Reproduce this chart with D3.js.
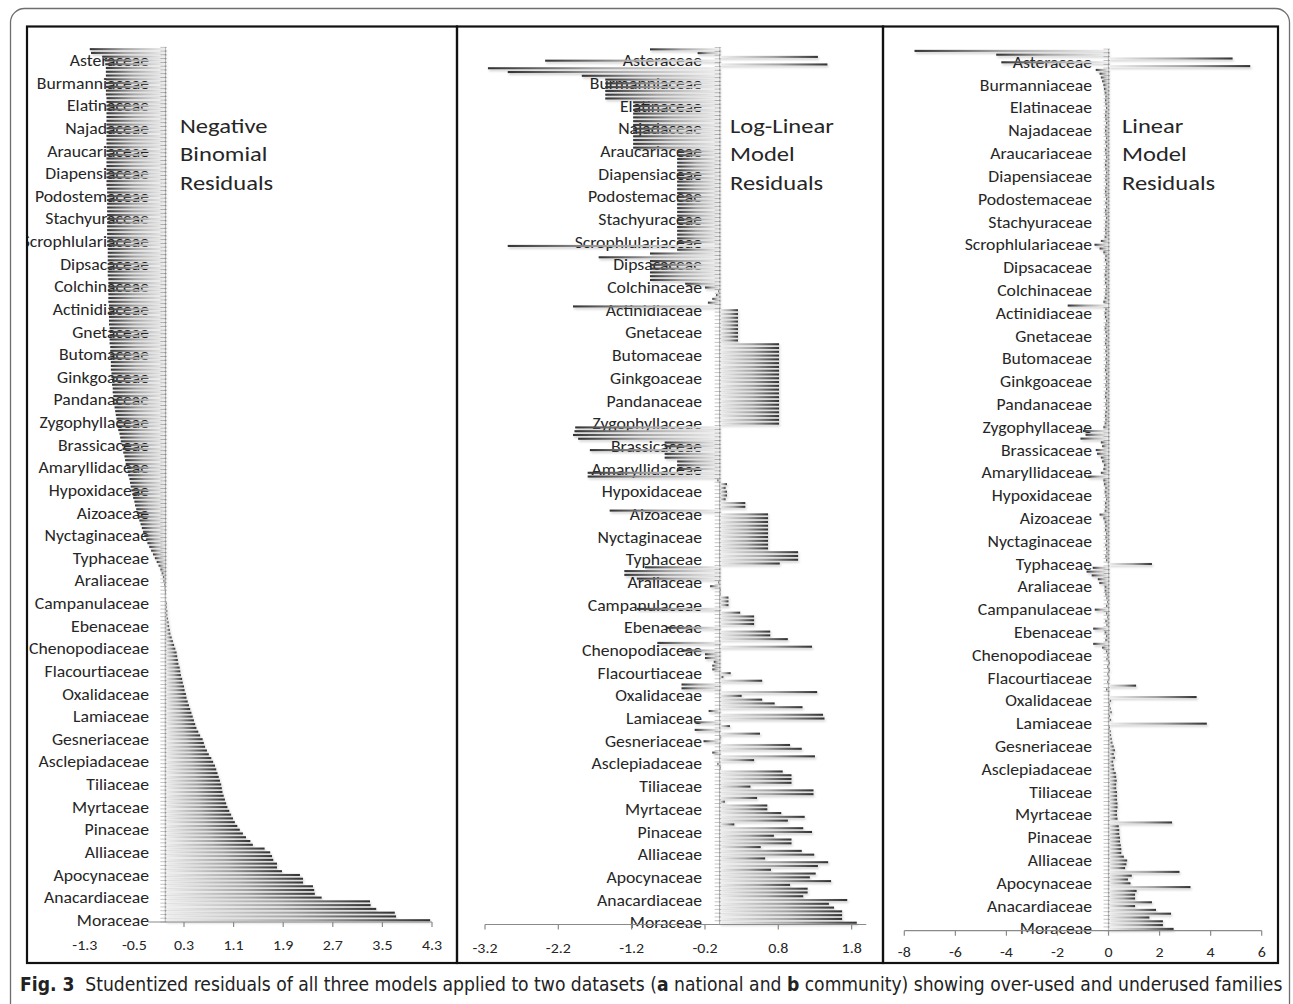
<!DOCTYPE html>
<html><head><meta charset="utf-8">
<script src="https://cdn.jsdelivr.net/npm/d3@7"></script>
<style>body{margin:0;background:#fff}svg{display:block}</style>
</head><body>
<script>
// Families, bottom (index 0) to top; only every 6th family carries a label in the figure
const families = ["Moraceae","Anacardiaceae","Apocynaceae","Alliaceae","Pinaceae","Myrtaceae","Tiliaceae",
  "Asclepiadaceae","Gesneriaceae","Lamiaceae","Oxalidaceae","Flacourtiaceae","Chenopodiaceae","Ebenaceae",
  "Campanulaceae","Araliaceae","Typhaceae","Nyctaginaceae","Aizoaceae","Hypoxidaceae","Amaryllidaceae",
  "Brassicaceae","Zygophyllaceae","Pandanaceae","Ginkgoaceae","Butomaceae","Gnetaceae","Actinidiaceae",
  "Colchinaceae","Dipsacaceae","Scrophlulariaceae","Stachyuraceae","Podostemaceae","Diapensiaceae",
  "Araucariaceae","Najadaceae","Elatinaceae","Burmanniaceae","Asteraceae"];
const labelEvery = 6;

// Studentized residuals, bottom (Moraceae) to top; each row starts at a labelled family
const nbResiduals = [
  4.27, 3.72, 3.70, 3.40, 3.31, 3.30,
  2.52, 2.41, 2.40, 2.38, 2.22, 2.22,
  2.17, 1.88, 1.80, 1.80, 1.74, 1.72,
  1.69, 1.60, 1.41, 1.37, 1.30, 1.25,
  1.20, 1.16, 1.12, 1.09, 1.06, 1.03,
  1.00, 0.98, 0.96, 0.94, 0.92, 0.91,
  0.90, 0.88, 0.86, 0.84, 0.82, 0.80,
  0.77, 0.74, 0.70, 0.67, 0.64, 0.62,
  0.60, 0.56, 0.53, 0.50, 0.48, 0.46,
  0.44, 0.42, 0.40, 0.38, 0.36, 0.34,
  0.33, 0.31, 0.30, 0.28, 0.27, 0.25,
  0.24, 0.23, 0.21, 0.20, 0.19, 0.18,
  0.16, 0.14, 0.12, 0.10, 0.08, 0.07,
  0.06, 0.05, 0.04, 0.03, 0.03, 0.02,
  0.02, 0.01, 0.01, 0.00, -0.01, -0.02,
  -0.03, -0.04, -0.06, -0.08, -0.11, -0.14,
  -0.17, -0.20, -0.23, -0.26, -0.29, -0.31,
  -0.34, -0.36, -0.38, -0.40, -0.42, -0.44,
  -0.46, -0.47, -0.49, -0.50, -0.52, -0.53,
  -0.55, -0.56, -0.57, -0.58, -0.60, -0.61,
  -0.62, -0.64, -0.65, -0.66, -0.68, -0.69,
  -0.70, -0.72, -0.73, -0.74, -0.76, -0.77,
  -0.78, -0.79, -0.80, -0.81, -0.82, -0.83,
  -0.84, -0.84, -0.85, -0.85, -0.86, -0.86,
  -0.87, -0.87, -0.88, -0.88, -0.88, -0.89,
  -0.89, -0.89, -0.89, -0.90, -0.90, -0.90,
  -0.90, -0.90, -0.91, -0.91, -0.91, -0.91,
  -0.91, -0.91, -0.92, -0.92, -0.92, -0.92,
  -0.92, -0.92, -0.92, -0.93, -0.93, -0.93,
  -0.93, -0.93, -0.93, -0.93, -0.93, -0.94,
  -0.94, -0.94, -0.94, -0.94, -0.94, -0.94,
  -0.94, -0.94, -0.94, -0.94, -0.94, -0.94,
  -0.94, -0.94, -0.94, -0.95, -0.95, -0.95,
  -0.95, -0.95, -0.95, -0.95, -0.95, -0.95,
  -0.95, -0.95, -0.95, -0.95, -0.95, -0.95,
  -0.95, -0.95, -0.95, -0.95, -0.95, -0.95,
  -0.95, -0.95, -0.95, -0.96, -0.96, -0.96,
  -0.96, -0.96, -0.96, -0.96, -0.96, -0.97,
  -0.98, -1.02, -1.20, -1.22
];
const logLinearResiduals = [
  1.87, 1.67, 1.67, 1.67, 1.56, 1.49,
  1.74, 1.14, 1.20, 1.20, 0.96, 1.52,
  1.23, 1.31, 0.70, 1.34, 1.48, 0.62,
  1.29, 1.12, 0.56, 0.98, 0.98, 0.74,
  1.26, 1.14, 0.20, 0.93, 1.16, 0.84,
  0.65, 0.65, 0.07, 0.51, 1.28, 1.28,
  0.42, 0.98, 0.98, 0.98, 0.86, 0.01,
  -0.03, 0.47, 1.30, -0.10, 1.12, 0.96,
  -0.22, 0.02, 0.55, -0.34, 0.14, -0.34,
  1.43, 1.41, -0.15, 1.13, 0.75, 0.58,
  0.30, 1.33, -0.52, -0.52, 0.58, 0.05,
  0.15, -0.10, -0.10, -0.08, -0.20, -0.20,
  -0.52, 1.26, -0.85, 0.93, 0.69, 0.69,
  -0.72, 0.47, 0.47, 0.47, 0.28, -1.13,
  0.12, 0.12, 0.12, 0.01, 0.01, -0.13,
  -0.02, -1.13, -1.30, -1.30, -1.02, 0.82,
  1.07, 1.07, 1.07, 0.66, 0.66, 0.66,
  0.66, 0.66, 0.66, 0.66, 0.66, 0.66,
  0.66, -1.50, 0.35, 0.35, 0.08, 0.10,
  0.10, 0.08, 0.10, -0.03, -1.80, -1.80,
  -0.58, -0.58, -0.58, -0.75, -0.75, -1.77,
  -0.75, -0.75, -1.93, -2.00, -1.98, -1.97,
  0.81, 0.81, 0.81, 0.81, 0.81, 0.81,
  0.81, 0.81, 0.81, 0.81, 0.81, 0.81,
  0.81, 0.81, 0.81, 0.81, 0.81, 0.81,
  0.81, 0.81, 0.81, 0.81, 0.25, 0.25,
  0.25, 0.25, 0.25, 0.25, 0.25, 0.25,
  0.25, -2.00, -0.16, -0.10, -0.05, -0.02,
  -0.20, -0.47, -0.95, -0.95, -0.95, -0.95,
  -0.95, -0.95, -1.65, -0.95, -0.58, -2.89,
  -0.58, -0.58, -0.58, -0.58, -0.58, -0.58,
  -0.58, -0.58, -0.58, -0.58, -0.58, -0.58,
  -0.58, -0.58, -0.58, -0.58, -0.58, -0.58,
  -0.58, -0.58, -0.58, -0.58, -0.58, -0.58,
  -0.58, -1.18, -1.18, -1.18, -1.18, -1.18,
  -1.18, -1.18, -1.18, -1.18, -1.18, -1.18,
  -1.18, -1.18, -1.56, -1.56, -1.56, -1.56,
  -1.56, -1.56, -1.88, -2.89, -3.16, 1.47,
  -2.38, 1.34, -0.30, -0.95
];
const linearResiduals = [
  2.55, 2.13, 2.13, 1.60, 2.45, 1.86,
  1.04, 1.70, 1.04, 1.04, 1.10, 3.21,
  0.86, 0.76, 0.91, 2.78, 0.65, 0.70,
  0.73, 0.60, 0.50, 0.50, 0.48, 0.45,
  0.45, 0.42, 0.42, 0.40, 2.49, 0.35,
  0.33, 0.33, 0.35, 0.35, 0.33, 0.33,
  0.33, 0.30, 0.30, 0.32, 0.30, 0.28,
  0.22, 0.20, 0.18, 0.25, 0.20, 0.25,
  0.20, 0.15, 0.12, 0.10, 0.08, 0.05,
  3.85, 0.10, 0.05, 0.12, 0.08, 0.04,
  0.10, 3.45, 0.02, -0.10, 1.08, -0.05,
  0.03, -0.04, 0.05, -0.06, 0.04, -0.08,
  -0.05, -0.10, -0.25, -0.60, -0.12, -0.10,
  -0.15, -0.60, -0.08, -0.12, -0.05, -0.10,
  -0.54, -0.10, -0.06, -0.08, -0.12, -0.15,
  -0.15, -0.36, -0.42, -0.66, -0.86, -0.62,
  1.70, -0.10, -0.12, -0.08, -0.10, -0.12,
  -0.10, -0.12, -0.10, -0.14, -0.12, -0.15,
  -0.20, -0.35, -0.15, -0.12, -0.14, -0.10,
  -0.12, -0.15, -0.12, -0.18, -0.20, -0.80,
  -0.30, -0.20, -0.18, -0.25, -0.30, -0.45,
  -0.50, -0.25, -0.30, -1.10, -0.90, -1.00,
  -0.20, -0.15, -0.12, -0.14, -0.12, -0.10,
  -0.12, -0.10, -0.14, -0.12, -0.10, -0.12,
  -0.10, -0.12, -0.10, -0.14, -0.12, -0.10,
  -0.12, -0.10, -0.12, -0.10, -0.14, -0.12,
  -0.10, -0.12, -0.15, -0.12, -0.10, -0.14,
  -0.15, -0.12, -1.60, -0.20, -0.15, -0.12,
  -0.12, -0.10, -0.14, -0.12, -0.15, -0.12,
  -0.12, -0.10, -0.14, -0.12, -0.20, -0.35,
  -0.55, -0.30, -0.15, -0.12, -0.14, -0.12,
  -0.12, -0.10, -0.12, -0.14, -0.10, -0.12,
  -0.10, -0.12, -0.14, -0.12, -0.10, -0.12,
  -0.12, -0.10, -0.12, -0.14, -0.12, -0.10,
  -0.12, -0.14, -0.10, -0.12, -0.10, -0.12,
  -0.14, -0.12, -0.10, -0.12, -0.14, -0.12,
  -0.10, -0.12, -0.14, -0.12, -0.15, -0.18,
  -0.20, -0.25, -0.30, -0.35, -0.50, 5.55,
  -4.20, 4.86, -4.40, -7.60
];

const nbTicks = [-1.3, -0.5, 0.3, 1.1, 1.9, 2.7, 3.5, 4.3];
const logLinearTicks = [-3.2, -2.2, -1.2, -0.2, 0.8, 1.8];
const linearTicks = [-8, -6, -4, -2, 0, 2, 4, 6];
const panelTitles = [["Negative", "Binomial", "Residuals"], ["Log-Linear", "Model", "Residuals"], ["Linear", "Model", "Residuals"]];
const captionParts = [
  {t: "Fig. 3", b: true}, {t: "  Studentized residuals of all three models applied to two datasets (", b: false},
  {t: "a", b: true}, {t: " national and ", b: false}, {t: "b", b: true},
  {t: " community) showing over-used and underused families", b: false}
];

// ---------- layout ----------
const W = 1293, H = 1004;
const labelFont = "Carlito, Calibri, 'Open Sans', Lato, sans-serif";
const svg = d3.select("body").append("svg").attr("width", W).attr("height", H);
const defs = svg.append("defs");

function grad(id, light2dark) {
  const g = defs.append("linearGradient").attr("id", id).attr("x1", 0).attr("x2", 1).attr("y1", 0).attr("y2", 0);
  const stops = [[0, "#efefef"], [0.55, "#a2a2a2"], [1, "#333333"]];
  (light2dark ? stops : stops.map(([o, c]) => [1 - o, c]).reverse())
    .forEach(([o, c]) => g.append("stop").attr("offset", o).attr("stop-color", c));
}
grad("gpos", true); grad("gneg", false);
const f = defs.append("filter").attr("id", "shadow").attr("x", "-10%").attr("y", "-50%").attr("width", "130%").attr("height", "300%");
f.append("feDropShadow").attr("dx", 1.2).attr("dy", 1.8).attr("stdDeviation", 1.2).attr("flood-color", "#000").attr("flood-opacity", 0.2);

// outer rounded frame
svg.append("rect").attr("x", 10.5).attr("y", 8.5).attr("width", 1279).attr("height", 1020).attr("rx", 14)
  .attr("fill", "none").attr("stroke", "#6e6e6e").attr("stroke-width", 1.3);

const panels = [
  {values: nbResiduals, ticks: nbTicks, domain: [-1.3, 4.3], range: [84.8, 432], axisY: 922, step: 3.77,
   labelX: 149, titleX: 180, box: [27, 457], tickY: 950, axisFrom: -0.28, fmt: d => d.toFixed(1)},
  {values: logLinearResiduals, ticks: logLinearTicks, domain: [-3.2, 2.0], range: [485, 866.3], axisY: 924.5, step: 3.78,
   labelX: 702, titleX: 730, box: [457, 883], tickY: 953, axisFrom: -3.2, fmt: d => d.toFixed(1)},
  {values: linearResiduals, ticks: linearTicks, domain: [-8, 6], range: [904.3, 1261.7], axisY: 930.7, step: 3.8,
   labelX: 1092, titleX: 1122, box: [883, 1278], tickY: 957, axisFrom: -8, fmt: d => String(d)}
];
const boxTop = 26.5, boxBottom = 963;
const labelStretch = 1.14, titleStretch = 1.17, tickStretch = 1.1;

panels.forEach((p, pi) => {
  const n = p.values.length;
  const x = d3.scaleLinear().domain(p.domain).range(p.range);
  const y = d3.scaleBand().domain(d3.range(n)).range([p.axisY, p.axisY - n * p.step]).paddingInner(0.45).paddingOuter(0.2);
  const x0 = x(0);
  const clipId = "clip" + pi;
  defs.append("clipPath").attr("id", clipId).append("rect")
    .attr("x", p.box[0] + 1).attr("y", boxTop).attr("width", p.box[1] - p.box[0] - 2).attr("height", boxBottom - boxTop);
  const g = svg.append("g").attr("clip-path", `url(#${clipId})`);

  // category labels (every 6th family)
  g.append("g").selectAll("text").data(families).join("text")
    .attr("transform", (d, k) => `translate(${p.labelX},${y(k * labelEvery) + y.bandwidth() / 2}) scale(${labelStretch},1)`)
    .attr("dy", "0.36em").attr("text-anchor", "end")
    .attr("font-family", labelFont).attr("font-size", 15.5).attr("fill", "#262626")
    .text(d => d);

  // title
  g.append("text").attr("transform", `translate(${p.titleX},133) scale(${titleStretch},1)`)
    .attr("font-family", labelFont).attr("font-size", 21).attr("fill", "#262626")
    .selectAll("tspan").data(panelTitles[pi]).join("tspan")
    .attr("x", 0).attr("y", (d, i) => i * 28.5).text(d => d);

  // category axis with minor ticks
  const top = p.axisY - n * p.step;
  const ax = g.append("g");
  ax.selectAll("line.t").data(d3.range(n + 1)).join("line").attr("class", "t")
    .attr("x1", x0 - 5).attr("x2", x0 + 1.5)
    .attr("y1", i => p.axisY - i * p.step).attr("y2", i => p.axisY - i * p.step)
    .attr("stroke", "#b4b4b4").attr("stroke-width", 0.8);
  ax.append("line").attr("x1", x0).attr("x2", x0).attr("y1", top).attr("y2", p.axisY)
    .attr("stroke", "#9a9a9a").attr("stroke-width", 1.2);

  // bars
  g.append("g").attr("filter", "url(#shadow)").selectAll("rect").data(p.values).join("rect")
    .attr("x", v => x(Math.min(0, v)))
    .attr("width", v => Math.abs(x(v) - x0))
    .attr("y", (v, i) => y(i))
    .attr("height", y.bandwidth())
    .attr("fill", v => v >= 0 ? "url(#gpos)" : "url(#gneg)");

  // value axis
  const xa = g.append("g").attr("transform", `translate(0,${p.axisY})`);
  xa.append("line").attr("x1", x(p.axisFrom)).attr("x2", p.range[1]).attr("stroke", "#8a8a8a").attr("stroke-width", 1.2);
  xa.selectAll("line.tk").data(p.ticks.filter(t => t >= p.axisFrom)).join("line").attr("class", "tk")
    .attr("x1", d => x(d)).attr("x2", d => x(d)).attr("y1", 0).attr("y2", 5)
    .attr("stroke", "#8a8a8a").attr("stroke-width", 1.2);
  g.append("g").selectAll("text").data(p.ticks).join("text")
    .attr("transform", d => `translate(${x(d)},${p.tickY}) scale(${tickStretch},1)`).attr("text-anchor", "middle")
    .attr("font-family", labelFont).attr("font-size", 14.5).attr("fill", "#262626")
    .text(p.fmt);
});

// panel boxes
panels.forEach(p => {
  svg.append("rect").attr("x", p.box[0]).attr("y", boxTop).attr("width", p.box[1] - p.box[0]).attr("height", boxBottom - boxTop)
    .attr("fill", "none").attr("stroke", "#111").attr("stroke-width", 2.2);
});

// caption
const cap = svg.append("text").attr("font-family", "'Liberation Sans Narrow', 'DejaVu Sans Condensed', 'Roboto', sans-serif")
  .attr("font-size", 19).attr("fill", "#222").attr("xml:space", "preserve").style("white-space", "pre");
cap.selectAll("tspan").data(captionParts).join("tspan").attr("font-weight", d => d.b ? "bold" : "normal").text(d => d.t);
const bw = cap.node().getBBox().width;
cap.attr("transform", `translate(20,991) scale(${1263 / bw},1)`);
</script>
</body></html>
